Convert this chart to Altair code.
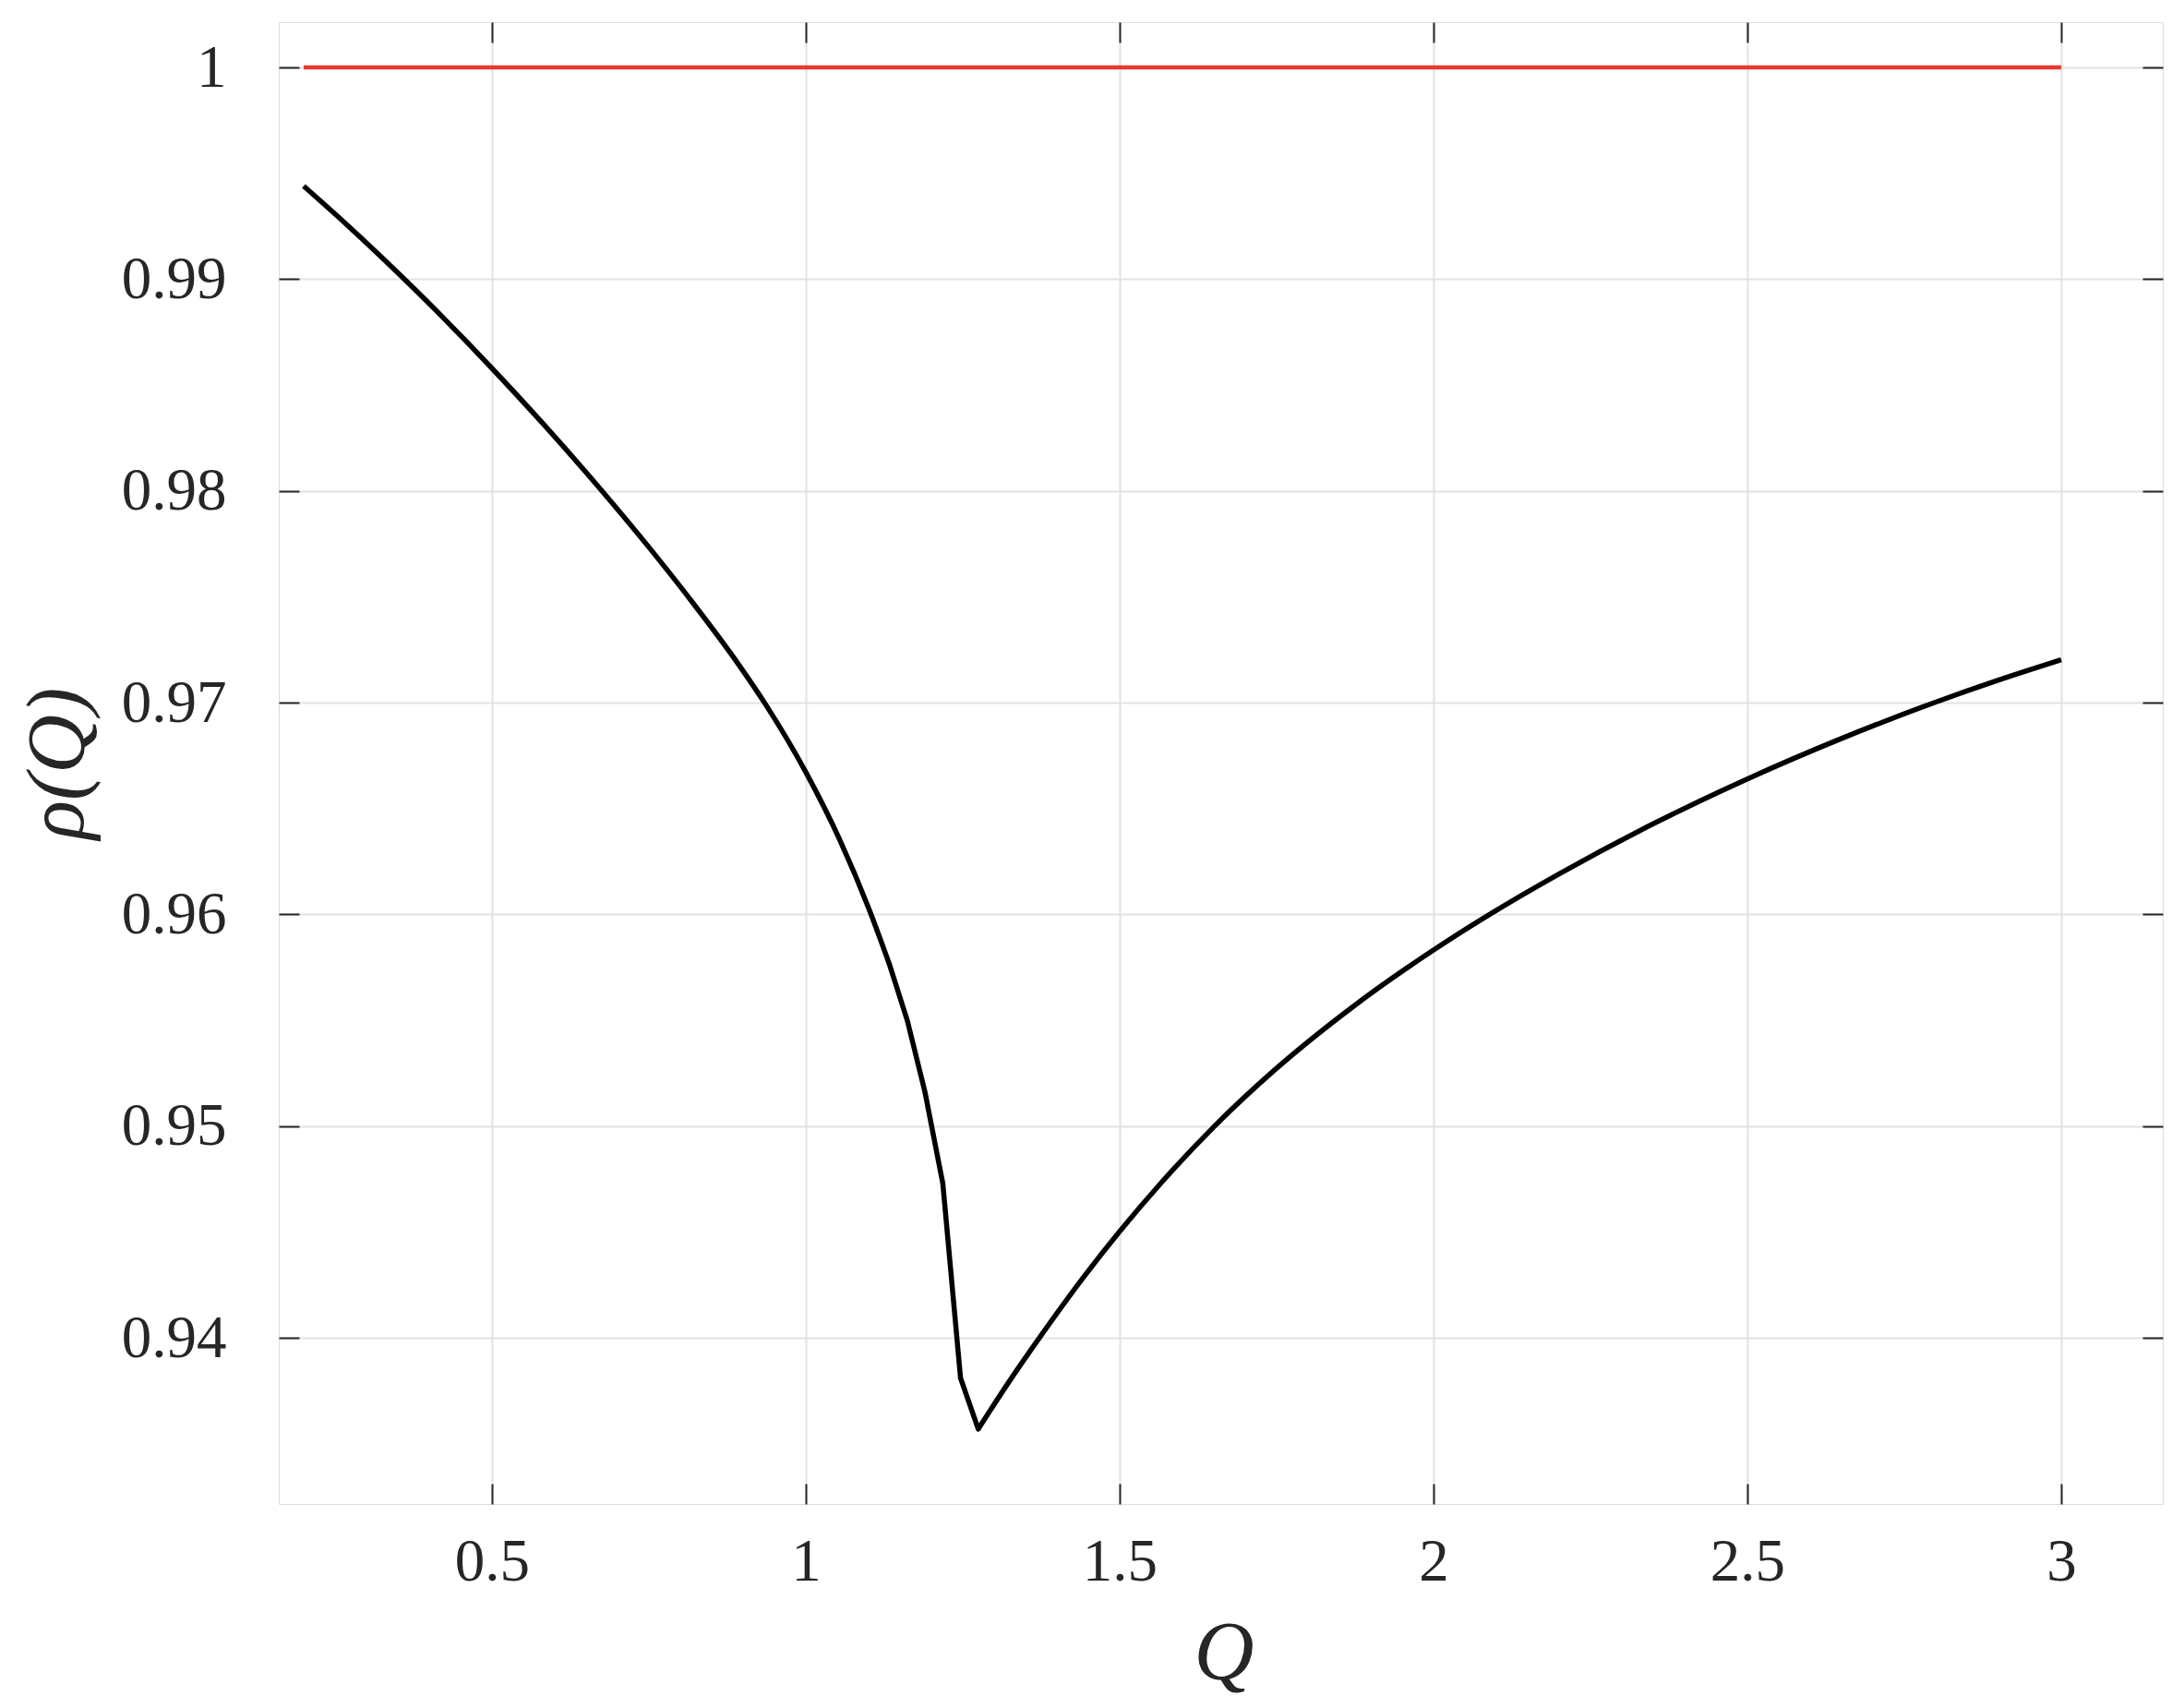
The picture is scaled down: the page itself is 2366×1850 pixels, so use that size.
import altair as alt
import pandas as pd

# ---- data ----
# left (smooth) branch
q_left = [0.2, 0.27, 0.358, 0.428, 0.5, 0.58, 0.673, 0.749, 0.822, 0.893, 0.937,
          1.0, 1.054, 1.101, 1.1333]
rho_left = [0.9944, 0.99254, 0.99007, 0.98801, 0.98579, 0.98322, 0.98008, 0.97738, 0.97464, 0.9718, 0.96987,
            0.96672, 0.96353, 0.96023, 0.95763]
# coarsely sampled segment around the minimum (visible corners)
q_mid = [1.1333, 1.1616, 1.1899, 1.2182, 1.2465, 1.2747]
rho_mid = [0.95763, 0.9550, 0.9516, 0.9473, 0.9381, 0.9357]
# right (smooth) branch
q_right = [1.2747, 1.323, 1.372, 1.443, 1.5, 1.565, 1.651, 1.749, 1.871, 2.0, 2.095,
           2.2, 2.35, 2.5, 2.65, 2.801, 2.9, 3.0]
rho_right = [0.9357, 0.9379, 0.9400, 0.94289, 0.94503, 0.94729, 0.9500, 0.95271, 0.95563, 0.95832, 0.9601,
             0.96191, 0.96428, 0.9664, 0.96831, 0.97004, 0.97107, 0.97203]
# reference level
q_ref = [0.2, 3.0]
rho_ref = [1.0, 1.0]
x_ticks = [0.5, 1, 1.5, 2, 2.5, 3]
y_ticks = [0.94, 0.95, 0.96, 0.97, 0.98, 0.99, 1.0]

left_df = pd.DataFrame({"Q": q_left, "rho": rho_left})
mid_df = pd.DataFrame({"Q": q_mid, "rho": rho_mid})
right_df = pd.DataFrame({"Q": q_right, "rho": rho_right})
ref_df = pd.DataFrame({"Q": q_ref, "rho": rho_ref})

W, H = 2041, 1605
XDOM = [0.1603, 3.1618]
YDOM = [0.93216, 1.00214]
FONT = "Liberation Serif"
INK = "#262626"
GRID = "#e2e2e2"
TICK = 22
LW = 5.5

xs = alt.Scale(domain=XDOM, nice=False, zero=False)
ys = alt.Scale(domain=YDOM, nice=False, zero=False)

# main axes: labels + grid, no ticks
ax_x_main = alt.Axis(orient="bottom", values=x_ticks, format="~g", grid=True, gridColor=GRID,
                     gridWidth=2, ticks=False, tickSize=0, domain=False, labelFont=FONT,
                     labelFontSize=65, labelColor=INK, labelPadding=31, labelFlush=False,
                     title="Q", titleFont=FONT, titleFontSize=90, titleFontStyle="italic",
                     titleFontWeight="normal", titleColor=INK, titleBaseline="alphabetic",
                     titleY=189, titleX=W / 2 + 3, titleAlign="center")
ax_y_main = alt.Axis(orient="left", values=y_ticks, format="~g", grid=True, gridColor=GRID,
                     gridWidth=2, ticks=False, tickSize=0, domain=False, labelFont=FONT,
                     labelFontSize=65, labelColor=INK, labelPadding=57, labelFlush=False,
                     title="ρ(Q)", titleFont=FONT, titleFontSize=88, titleFontStyle="italic",
                     titleFontWeight="normal", titleColor=INK, titleAngle=270,
                     titleBaseline="alphabetic", titleX=-213, titleY=H / 2, titleAlign="center")


def tick_axis(orient, values):
    return alt.Axis(orient=orient, values=values, offset=-TICK, ticks=True, tickSize=TICK,
                    tickColor=INK, tickWidth=2, labels=False, grid=False, domain=False,
                    title=None)


left = alt.Chart(left_df).mark_line(color="black", strokeWidth=LW, interpolate="monotone").encode(
    x=alt.X("Q:Q", scale=xs, axis=ax_x_main),
    y=alt.Y("rho:Q", scale=ys, axis=ax_y_main),
)

mid = alt.Chart(mid_df).mark_line(color="black", strokeWidth=LW, strokeJoin="miter",
                                  strokeCap="round").encode(
    x=alt.X("Q:Q", scale=xs, axis=None),
    y=alt.Y("rho:Q", scale=ys, axis=None),
)

right = alt.Chart(right_df).mark_line(color="black", strokeWidth=LW, interpolate="monotone").encode(
    x=alt.X("Q:Q", scale=xs, axis=None),
    y=alt.Y("rho:Q", scale=ys, axis=None),
)

ref = alt.Chart(ref_df).mark_line(color="#e8392f", strokeWidth=4.5).encode(
    x=alt.X("Q:Q", scale=xs, axis=tick_axis("bottom", x_ticks)),
    y=alt.Y("rho:Q", scale=ys, axis=tick_axis("left", y_ticks)),
)

ghost = alt.Chart(ref_df).mark_line(opacity=0).encode(
    x=alt.X("Q:Q", scale=xs, axis=tick_axis("top", x_ticks)),
    y=alt.Y("rho:Q", scale=ys, axis=tick_axis("right", y_ticks)),
)

chart = alt.layer(ghost, left, mid, right, ref).resolve_axis(
    x="independent", y="independent"
).properties(
    width=W, height=H,
    autosize=alt.AutoSizeParams(type="none"),
    padding={"left": 294, "top": 16, "right": 15, "bottom": 215},
).configure_view(
    stroke=INK, strokeWidth=2
).configure(background="white")

chart.save("out.html", embed_options={"renderer": "svg", "actions": False})
